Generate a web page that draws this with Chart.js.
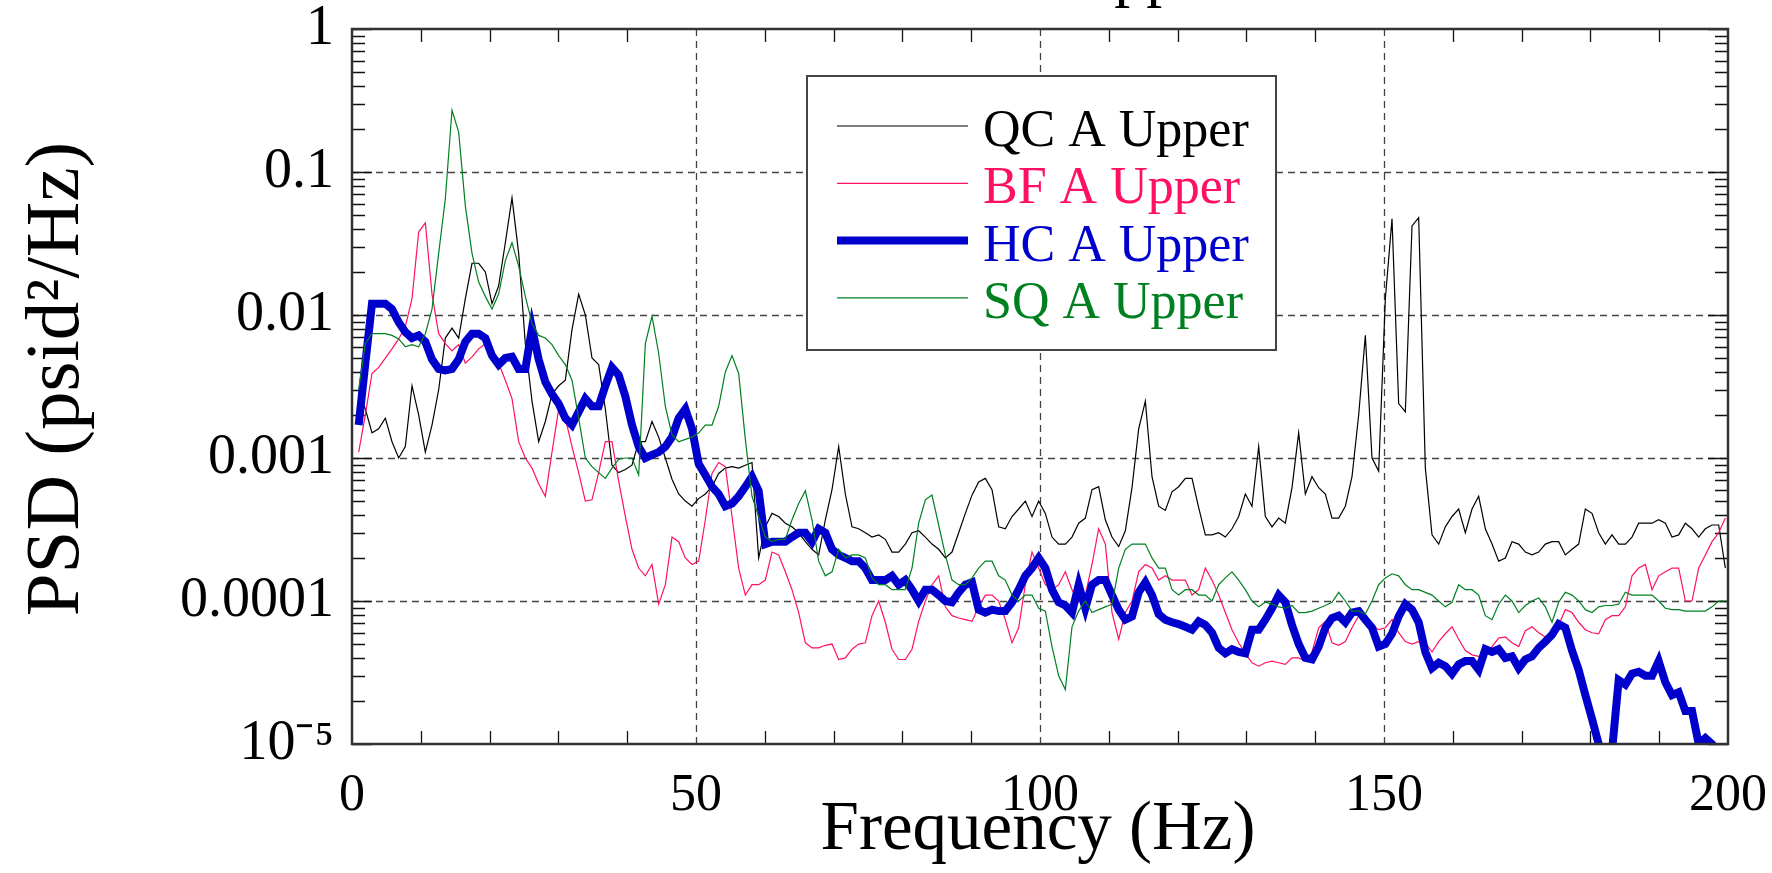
<!DOCTYPE html>
<html>
<head>
<meta charset="utf-8">
<script src="https://cdn.jsdelivr.net/npm/chart.js@4.4.1/dist/chart.umd.min.js"></script>
<style>
  html, body { margin: 0; padding: 0; background: #fff; overflow: hidden; }
</style>
</head>
<body>
<canvas id="psdCanvas" width="1772" height="873"></canvas>
<script>
// PSD values, one value per frequency line (df ~ 0.969 Hz)
const qcAUpper = [
  2.8e-3, 2.2e-3, 1.5e-3, 1.6e-3, 1.9e-3, 1.3e-3, 1.0e-3, 1.2e-3, 3.2e-3, 2.0e-3,
  1.1e-3, 1.7e-3, 3.0e-3, 6.9e-3, 8.1e-3, 6.9e-3, 1.3e-2, 2.3e-2, 2.3e-2, 2.0e-2,
  1.2e-2, 1.6e-2, 3.2e-2, 6.6e-2, 2.7e-2, 6.3e-3, 2.5e-3, 1.3e-3, 1.8e-3, 2.8e-3,
  3.2e-3, 3.5e-3, 7.9e-3, 1.4e-2, 1.0e-2, 5.0e-3, 4.5e-3, 2.2e-3, 8.9e-4, 7.9e-4,
  8.3e-4, 8.9e-4, 1.3e-3, 1.3e-3, 1.8e-3, 1.4e-3, 1.0e-3, 7.1e-4, 5.6e-4, 5.0e-4,
  4.6e-4, 5.2e-4, 5.6e-4, 6.3e-4, 7.8e-4, 8.5e-4, 8.7e-4, 8.5e-4, 8.9e-4, 9.3e-4,
  2.0e-4, 3.3e-4, 4.1e-4, 3.9e-4, 3.5e-4, 3.3e-4, 3.0e-4, 2.6e-4, 2.3e-4, 2.1e-4,
  3.7e-4, 6.0e-4, 1.2e-3, 5.6e-4, 3.3e-4, 3.2e-4, 3.0e-4, 2.8e-4, 2.9e-4, 2.7e-4,
  2.2e-4, 2.2e-4, 2.5e-4, 3.0e-4, 3.1e-4, 2.8e-4, 2.5e-4, 2.3e-4, 2.0e-4, 2.2e-4,
  3.0e-4, 4.1e-4, 5.5e-4, 6.8e-4, 7.2e-4, 6.0e-4, 3.3e-4, 3.2e-4, 3.9e-4, 4.4e-4,
  5.0e-4, 3.9e-4, 5.0e-4, 4.1e-4, 2.8e-4, 2.5e-4, 2.5e-4, 2.8e-4, 3.5e-4, 3.8e-4,
  6.0e-4, 6.3e-4, 3.7e-4, 2.8e-4, 2.4e-4, 3.1e-4, 6.2e-4, 1.6e-3, 2.5e-3, 7.4e-4,
  4.6e-4, 4.3e-4, 5.8e-4, 6.3e-4, 7.2e-4, 7.2e-4, 4.5e-4, 2.9e-4, 2.9e-4, 3.0e-4,
  2.8e-4, 3.2e-4, 3.9e-4, 5.6e-4, 4.6e-4, 1.2e-3, 3.9e-4, 3.3e-4, 3.8e-4, 3.5e-4,
  6.2e-4, 1.5e-3, 5.6e-4, 7.4e-4, 6.2e-4, 5.6e-4, 3.8e-4, 3.8e-4, 4.6e-4, 7.4e-4,
  2.0e-3, 7.2e-3, 1.0e-3, 8.1e-4, 1.3e-2, 4.7e-2, 2.4e-3, 2.1e-3, 4.2e-2, 4.8e-2,
  8.5e-4, 2.9e-4, 2.5e-4, 3.3e-4, 3.9e-4, 4.4e-4, 3.0e-4, 4.4e-4, 5.4e-4, 3.2e-4,
  2.5e-4, 1.9e-4, 2.0e-4, 2.6e-4, 2.5e-4, 2.2e-4, 2.1e-4, 2.2e-4, 2.5e-4, 2.6e-4,
  2.6e-4, 2.1e-4, 2.3e-4, 2.5e-4, 4.4e-4, 4.1e-4, 3.0e-4, 2.5e-4, 2.9e-4, 2.5e-4,
  2.5e-4, 2.8e-4, 3.5e-4, 3.5e-4, 3.5e-4, 3.7e-4, 3.5e-4, 2.8e-4, 2.9e-4, 3.5e-4,
  3.2e-4, 2.8e-4, 3.2e-4, 3.4e-4, 3.4e-4, 1.7e-4
];
const bfAUpper = [
  1.1e-3, 2.0e-3, 3.9e-3, 4.3e-3, 5.0e-3, 5.8e-3, 6.8e-3, 8.3e-3, 1.3e-2, 3.8e-2,
  4.4e-2, 1.4e-2, 7.4e-3, 6.3e-3, 5.6e-3, 6.2e-3, 4.6e-3, 5.1e-3, 5.8e-3, 6.3e-3,
  5.9e-3, 4.6e-3, 3.5e-3, 2.6e-3, 1.3e-3, 1.0e-3, 8.5e-4, 6.6e-4, 5.4e-4, 1.1e-3,
  2.2e-3, 1.9e-3, 1.2e-3, 7.9e-4, 5.0e-4, 5.1e-4, 7.9e-4, 1.3e-3, 1.3e-3, 6.9e-4,
  3.9e-4, 2.3e-4, 1.7e-4, 1.5e-4, 1.8e-4, 9.5e-5, 1.3e-4, 2.8e-4, 2.6e-4, 2.0e-4,
  1.8e-4, 1.9e-4, 3.7e-4, 7.8e-4, 9.3e-4, 8.7e-4, 3.9e-4, 1.7e-4, 1.1e-4, 1.3e-4,
  1.3e-4, 1.4e-4, 2.2e-4, 2.1e-4, 1.6e-4, 1.2e-4, 8.3e-5, 5.1e-5, 4.7e-5, 4.7e-5,
  4.9e-5, 5.0e-5, 3.9e-5, 4.0e-5, 4.6e-5, 5.0e-5, 5.1e-5, 7.9e-5, 1.0e-4, 7.1e-5,
  4.6e-5, 3.9e-5, 3.9e-5, 4.6e-5, 7.2e-5, 1.0e-4, 1.3e-4, 1.5e-4, 9.1e-5, 7.9e-5,
  7.6e-5, 7.4e-5, 7.2e-5, 9.1e-5, 1.1e-4, 1.1e-4, 1.0e-4, 7.4e-5, 5.1e-5, 6.5e-5,
  1.3e-4, 2.2e-4, 1.7e-4, 1.3e-4, 1.2e-4, 1.3e-4, 1.6e-4, 1.2e-4, 9.8e-5, 1.1e-4,
  1.8e-4, 3.2e-4, 2.5e-4, 8.3e-5, 5.4e-5, 8.3e-5, 1.0e-4, 1.6e-4, 1.8e-4, 1.7e-4,
  1.4e-4, 1.5e-4, 1.4e-4, 1.4e-4, 1.4e-4, 1.1e-4, 1.2e-4, 1.7e-4, 1.4e-4, 1.1e-4,
  8.3e-5, 6.3e-5, 5.1e-5, 4.3e-5, 3.7e-5, 3.5e-5, 3.7e-5, 3.8e-5, 3.7e-5, 3.6e-5,
  4.0e-5, 4.0e-5, 3.8e-5, 4.4e-5, 6.5e-5, 7.2e-5, 5.1e-5, 4.9e-5, 5.2e-5, 6.5e-5,
  7.9e-5, 7.6e-5, 6.8e-5, 6.3e-5, 6.5e-5, 7.4e-5, 6.0e-5, 5.2e-5, 5.0e-5, 5.2e-5,
  5.1e-5, 4.4e-5, 5.2e-5, 5.9e-5, 6.6e-5, 5.4e-5, 4.5e-5, 4.2e-5, 4.1e-5, 4.1e-5,
  4.8e-5, 5.5e-5, 5.6e-5, 5.1e-5, 4.8e-5, 6.2e-5, 6.6e-5, 6.0e-5, 5.6e-5, 5.9e-5,
  6.8e-5, 8.7e-5, 8.3e-5, 7.1e-5, 6.3e-5, 6.0e-5, 5.9e-5, 7.4e-5, 7.9e-5, 7.9e-5,
  9.1e-5, 1.5e-4, 1.7e-4, 1.8e-4, 1.2e-4, 1.5e-4, 1.6e-4, 1.7e-4, 1.7e-4, 1.0e-4,
  1.0e-4, 1.7e-4, 2.1e-4, 2.6e-4, 3.0e-4, 3.8e-4
];
const hcAUpper = [
  1.7e-3, 4.6e-3, 1.2e-2, 1.2e-2, 1.2e-2, 1.1e-2, 8.9e-3, 7.6e-3, 6.9e-3, 7.2e-3,
  6.5e-3, 4.9e-3, 4.2e-3, 4.1e-3, 4.2e-3, 4.9e-3, 6.5e-3, 7.4e-3, 7.4e-3, 6.9e-3,
  5.2e-3, 4.5e-3, 5.0e-3, 5.1e-3, 4.2e-3, 4.2e-3, 8.1e-3, 4.9e-3, 3.4e-3, 2.8e-3,
  2.4e-3, 1.9e-3, 1.7e-3, 2.1e-3, 2.6e-3, 2.3e-3, 2.3e-3, 3.2e-3, 4.3e-3, 3.8e-3,
  2.7e-3, 1.7e-3, 1.2e-3, 1.0e-3, 1.05e-3, 1.1e-3, 1.2e-3, 1.4e-3, 1.9e-3, 2.2e-3,
  1.6e-3, 9.1e-4, 7.6e-4, 6.3e-4, 5.6e-4, 4.6e-4, 4.8e-4, 5.4e-4, 6.3e-4, 7.4e-4,
  5.9e-4, 2.5e-4, 2.6e-4, 2.6e-4, 2.6e-4, 2.8e-4, 3.0e-4, 3.0e-4, 2.6e-4, 3.2e-4,
  3.0e-4, 2.3e-4, 2.1e-4, 2.0e-4, 1.9e-4, 1.9e-4, 1.7e-4, 1.4e-4, 1.4e-4, 1.4e-4,
  1.5e-4, 1.3e-4, 1.4e-4, 1.2e-4, 1.0e-4, 1.2e-4, 1.2e-4, 1.1e-4, 1.0e-4, 9.8e-5,
  1.15e-4, 1.3e-4, 1.35e-4, 8.7e-5, 8.3e-5, 8.7e-5, 8.5e-5, 8.5e-5, 9.8e-5, 1.2e-4,
  1.5e-4, 1.7e-4, 2.0e-4, 1.7e-4, 1.2e-4, 9.8e-5, 9.3e-5, 8.3e-5, 1.3e-4, 8.9e-5,
  1.3e-4, 1.4e-4, 1.4e-4, 1.1e-4, 8.7e-5, 7.4e-5, 7.8e-5, 1.15e-4, 1.35e-4, 1.1e-4,
  8.1e-5, 7.4e-5, 7.1e-5, 6.9e-5, 6.6e-5, 6.3e-5, 7.2e-5, 6.8e-5, 6.0e-5, 4.7e-5,
  4.3e-5, 4.6e-5, 4.4e-5, 4.3e-5, 6.3e-5, 6.3e-5, 7.4e-5, 8.9e-5, 1.1e-4, 9.8e-5,
  6.8e-5, 5.0e-5, 4.0e-5, 3.9e-5, 4.8e-5, 6.5e-5, 7.6e-5, 7.9e-5, 7.1e-5, 8.3e-5,
  8.5e-5, 7.4e-5, 6.5e-5, 4.8e-5, 5.0e-5, 5.9e-5, 7.8e-5, 9.5e-5, 8.7e-5, 7.1e-5,
  4.4e-5, 3.4e-5, 3.7e-5, 3.5e-5, 3.1e-5, 3.6e-5, 3.8e-5, 3.8e-5, 3.3e-5, 4.6e-5,
  4.4e-5, 4.6e-5, 4.0e-5, 4.1e-5, 3.4e-5, 3.9e-5, 4.1e-5, 4.7e-5, 5.2e-5, 5.8e-5,
  6.9e-5, 6.5e-5, 4.5e-5, 3.3e-5, 2.2e-5, 1.5e-5, 1.0e-5, 5.0e-6, 8.9e-6, 2.8e-5,
  2.6e-5, 3.1e-5, 3.2e-5, 3.0e-5, 3.0e-5, 3.8e-5, 2.7e-5, 2.2e-5, 2.3e-5, 1.7e-5,
  1.7e-5, 1.0e-5, 1.1e-5, 1.0e-5, 5.0e-6
];
const sqAUpper = [
  3.0e-3, 6.3e-3, 7.4e-3, 7.4e-3, 7.4e-3, 7.2e-3, 6.8e-3, 6.0e-3, 6.2e-3, 6.0e-3,
  7.4e-3, 1.1e-2, 2.7e-2, 6.5e-2, 2.7e-1, 1.9e-1, 5.8e-2, 2.7e-2, 1.7e-2, 1.35e-2,
  1.1e-2, 1.4e-2, 2.4e-2, 3.2e-2, 2.2e-2, 1.35e-2, 8.7e-3, 7.2e-3, 6.9e-3, 6.2e-3,
  5.2e-3, 4.5e-3, 3.5e-3, 1.9e-3, 1.0e-3, 8.7e-4, 7.9e-4, 7.2e-4, 8.5e-4, 9.8e-4,
  1.0e-3, 1.0e-3, 7.6e-4, 6.3e-3, 9.8e-3, 5.4e-3, 2.3e-3, 1.45e-3, 1.3e-3, 1.35e-3,
  1.4e-3, 1.5e-3, 1.7e-3, 1.7e-3, 2.3e-3, 4.0e-3, 5.2e-3, 3.9e-3, 1.35e-3, 5.4e-4,
  3.9e-4, 2.8e-4, 2.6e-4, 2.7e-4, 2.7e-4, 3.7e-4, 4.8e-4, 5.9e-4, 3.7e-4, 1.9e-4,
  1.5e-4, 1.6e-4, 2.3e-4, 2.0e-4, 2.1e-4, 2.1e-4, 2.0e-4, 1.45e-4, 1.3e-4, 1.3e-4,
  1.2e-4, 1.2e-4, 1.2e-4, 1.7e-4, 3.5e-4, 5.1e-4, 5.5e-4, 3.4e-4, 2.1e-4, 1.4e-4,
  1.3e-4, 1.3e-4, 1.45e-4, 1.7e-4, 1.9e-4, 1.9e-4, 1.5e-4, 1.4e-4, 1.1e-4, 1.0e-4,
  1.1e-4, 1.1e-4, 8.9e-5, 8.5e-5, 4.8e-5, 3.0e-5, 2.4e-5, 6.6e-5, 8.5e-5, 1.0e-4,
  8.3e-5, 8.7e-5, 9.1e-5, 9.5e-5, 1.7e-4, 2.3e-4, 2.5e-4, 2.5e-4, 2.5e-4, 2.0e-4,
  1.7e-4, 1.7e-4, 1.2e-4, 1.1e-4, 1.2e-4, 1.2e-4, 1.1e-4, 1.1e-4, 1.0e-4, 1.3e-4,
  1.45e-4, 1.6e-4, 1.4e-4, 1.2e-4, 1.0e-4, 9.1e-5, 9.8e-5, 9.5e-5, 9.1e-5, 8.9e-5,
  9.3e-5, 8.3e-5, 8.3e-5, 8.5e-5, 8.9e-5, 9.3e-5, 9.8e-5, 1.15e-4, 1.0e-4, 8.5e-5,
  8.5e-5, 8.1e-5, 1.0e-4, 1.3e-4, 1.45e-4, 1.55e-4, 1.5e-4, 1.3e-4, 1.2e-4, 1.2e-4,
  1.15e-4, 1.1e-4, 1.0e-4, 9.1e-5, 9.8e-5, 1.3e-4, 1.2e-4, 1.2e-4, 1.1e-4, 7.9e-5,
  7.4e-5, 9.5e-5, 1.1e-4, 1.0e-4, 8.3e-5, 9.3e-5, 1.0e-4, 1.05e-4, 9.1e-5, 7.1e-5,
  9.8e-5, 1.15e-4, 1.1e-4, 1.0e-4, 8.7e-5, 8.3e-5, 9.1e-5, 9.3e-5, 9.3e-5, 9.5e-5,
  1.15e-4, 1.1e-4, 1.1e-4, 1.1e-4, 1.1e-4, 1.0e-4, 8.9e-5, 8.7e-5, 8.7e-5, 8.5e-5,
  8.5e-5, 8.5e-5, 8.5e-5, 9.1e-5, 1.0e-4, 1.0e-4
];

const df = 0.969;
const xTicks = [0, 50, 100, 150, 200];
const yTicks = [1, 0.1, 0.01, 0.001, 0.0001, 0.00001];
const yTickText = ['1', '0.1', '0.01', '0.001', '0.0001', '10\u207B\u2075'];

const serif = '"Liberation Serif", "Times New Roman", serif';
const clear = 'rgba(0,0,0,0)';

function toPoints(values) {
    return values.map((v, i) => ({ x: +((i + 1) * df).toFixed(3), y: v }));
}

// dashed grid, minor ticks, frame, legend and titles
const decorPlugin = {
    id: 'decor',
    beforeDatasetsDraw(chart) {
        const { ctx, chartArea: a, scales: { x, y } } = chart;
        ctx.save();
        ctx.strokeStyle = '#444';
        ctx.lineWidth = 1.3;
        ctx.setLineDash([7, 5]);
        xTicks.slice(1, -1).forEach(v => {
            let px = Math.round(x.getPixelForValue(v)) + 0.5;
            ctx.beginPath();
            ctx.moveTo(px, a.top);
            ctx.lineTo(px, a.bottom);
            ctx.stroke();
        });
        yTicks.slice(1, -1).forEach(v => {
            let py = Math.round(y.getPixelForValue(v)) + 0.5;
            ctx.beginPath();
            ctx.moveTo(a.left, py);
            ctx.lineTo(a.right, py);
            ctx.stroke();
        });
        ctx.setLineDash([]);
        ctx.strokeStyle = '#111';
        ctx.lineWidth = 1.3;
        for (let v = 10; v < 200; v += 10) {
            if (v % 50 === 0) continue;
            let px = Math.round(x.getPixelForValue(v)) + 0.5;
            ctx.beginPath();
            ctx.moveTo(px, a.bottom); ctx.lineTo(px, a.bottom - 13);
            ctx.moveTo(px, a.top); ctx.lineTo(px, a.top + 13);
            ctx.stroke();
        }
        yTicks.forEach((d, i) => {
            let py = Math.round(y.getPixelForValue(d)) + 0.5;
            ctx.beginPath();
            ctx.moveTo(a.left, py); ctx.lineTo(a.left + 20, py);
            ctx.moveTo(a.right, py); ctx.lineTo(a.right - 20, py);
            ctx.stroke();
            if (i === 0) return;
            for (let m = 2; m <= 9; m++) {
                let pm = Math.round(y.getPixelForValue(m * d)) + 0.5;
                ctx.beginPath();
                ctx.moveTo(a.left, pm); ctx.lineTo(a.left + 13, pm);
                ctx.moveTo(a.right, pm); ctx.lineTo(a.right - 13, pm);
                ctx.stroke();
            }
        });
        ctx.restore();
    },
    afterDatasetsDraw(chart) {
        const { ctx, chartArea: a } = chart;
        ctx.save();
        ctx.strokeStyle = '#333';
        ctx.lineWidth = 2.5;
        ctx.strokeRect(a.left, a.top, a.right - a.left, a.bottom - a.top);

        // legend box
        let box = { x: 807, y: 76, w: 469, h: 274 };
        ctx.fillStyle = '#fff';
        ctx.fillRect(box.x, box.y, box.w, box.h);
        ctx.lineWidth = 2;
        ctx.strokeStyle = '#444';
        ctx.strokeRect(box.x, box.y, box.w, box.h);
        ctx.font = '52px ' + serif;
        ctx.textBaseline = 'alphabetic';
        ctx.textAlign = 'left';
        chart.data.datasets.forEach((ds, i) => {
            let rowY = 126 + i * 57.3;
            ctx.strokeStyle = ds.borderColor;
            ctx.lineWidth = ds.borderWidth;
            ctx.beginPath();
            ctx.moveTo(837, rowY);
            ctx.lineTo(968, rowY);
            ctx.stroke();
            ctx.fillStyle = ds.borderColor;
            ctx.fillText(ds.label, 983, rowY + 20);
        });
        ctx.restore();
    },
    afterDraw(chart) {
        const { ctx } = chart;
        ctx.save();
        ctx.fillStyle = '#000';
        ctx.textBaseline = 'alphabetic';
        ctx.font = '64px ' + serif;
        // title sits above the page, only descenders show
        ctx.textAlign = 'right';
        ctx.fillText('PSD A Upper', 1228, -6);
        ctx.font = '69px ' + serif;
        ctx.textAlign = 'center';
        ctx.fillText('Frequency (Hz)', 1038, 849);
        ctx.font = '77px ' + serif;
        ctx.translate(78, 379);
        ctx.rotate(-Math.PI / 2);
        ctx.fillText('PSD (psid\u00B2/Hz)', 0, 0);
        ctx.restore();
    }
};

function showGraph() {
    let datasets = [
        { label: 'QC A Upper', data: toPoints(qcAUpper), borderColor: '#000000', borderWidth: 1.2, order: 4 },
        { label: 'BF A Upper', data: toPoints(bfAUpper), borderColor: '#ff1064', borderWidth: 1.2, order: 3 },
        { label: 'HC A Upper', data: toPoints(hcAUpper), borderColor: '#0000cc', borderWidth: 8, order: 2 },
        { label: 'SQ A Upper', data: toPoints(sqAUpper), borderColor: '#008020', borderWidth: 1.2, order: 1 }
    ];
    datasets.forEach(ds => {
        ds.pointRadius = 0;
        ds.fill = false;
        ds.tension = 0;
        ds.clip = 0;
    });

    new Chart(document.getElementById('psdCanvas'), {
        type: 'line',
        data: { datasets: datasets },
        options: {
            responsive: false,
            animation: false,
            devicePixelRatio: 1,
            layout: { padding: { top: 29, right: 44, left: 0, bottom: 0 } },
            plugins: { legend: { display: false }, tooltip: { enabled: false } },
            scales: {
                x: {
                    type: 'linear',
                    min: 0,
                    max: 200,
                    afterBuildTicks: s => { s.ticks = xTicks.map(v => ({ value: v })); },
                    afterFit: s => { s.height = 129; },
                    grid: { display: true, drawOnChartArea: false, drawTicks: true, tickLength: 26, color: clear, tickColor: clear },
                    border: { display: false },
                    ticks: {
                        autoSkip: false,
                        maxRotation: 0,
                        padding: 0,
                        color: '#000',
                        font: { family: serif, size: 52, lineHeight: 1 }
                    }
                },
                y: {
                    type: 'logarithmic',
                    min: 1e-5,
                    max: 1,
                    afterBuildTicks: s => { s.ticks = yTicks.map(v => ({ value: v })); },
                    afterFit: s => { s.width = 352; },
                    grid: { display: true, drawOnChartArea: false, drawTicks: true, tickLength: 18, color: clear, tickColor: clear },
                    border: { display: false },
                    ticks: {
                        autoSkip: false,
                        padding: 0,
                        color: '#000',
                        font: { family: serif, size: 56, lineHeight: 1 },
                        callback: v => {
                            let i = yTicks.indexOf(v);
                            return i >= 0 ? yTickText[i] : '';
                        }
                    }
                }
            }
        },
        plugins: [decorPlugin]
    });
}

showGraph();
</script>
</body>
</html>
